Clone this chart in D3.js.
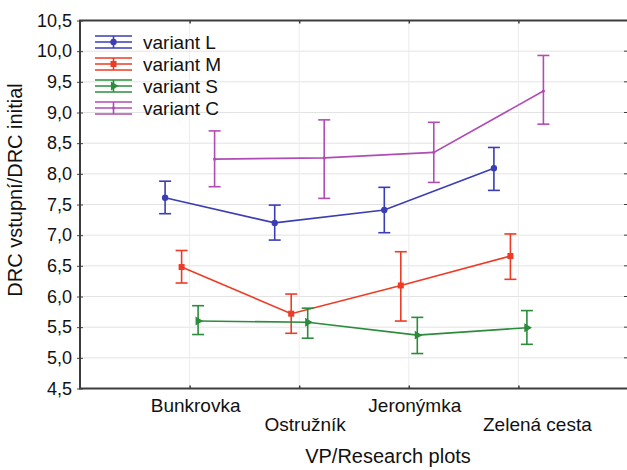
<!DOCTYPE html>
<html>
<head>
<meta charset="utf-8">
<script src="https://cdn.jsdelivr.net/npm/d3@7"></script>
<style>
  body { margin: 0; background: #fff; }
  text { font-family: "Liberation Sans", Arial, sans-serif; fill: #111; }
</style>
</head>
<body>
<div id="chart"></div>
<script>
// categories and series
const plots = ['Bunkrovka', 'Ostružník', 'Jeronýmka', 'Zelená cesta'];
const variants = ['variant L', 'variant M', 'variant S', 'variant C'];

// means and error bar ends
const meanL = [7.61, 7.20, 7.41, 8.09];
const lowL  = [7.35, 6.92, 7.04, 7.73];
const highL = [7.88, 7.49, 7.78, 8.43];

const meanM = [6.48, 5.72, 6.18, 6.66];
const lowM  = [6.22, 5.40, 5.60, 6.28];
const highM = [6.75, 6.04, 6.73, 7.02];

const meanS = [5.60, 5.58, 5.37, 5.49];
const lowS  = [5.38, 5.32, 5.07, 5.22];
const highS = [5.85, 5.81, 5.66, 5.77];

const meanC = [8.24, 8.26, 8.35, 9.35];
const lowC  = [7.79, 7.60, 7.86, 8.81];
const highC = [8.70, 8.88, 8.84, 9.93];

const yTicks = [4.5, 5.0, 5.5, 6.0, 6.5, 7.0, 7.5, 8.0, 8.5, 9.0, 9.5, 10.0, 10.5];

const series = [
  { name: variants[0], mean: meanL, low: lowL, high: highL, color: '#3b3db3', symbol: d3.symbolCircle, size: 32, rot: 0 },
  { name: variants[1], mean: meanM, low: lowM, high: highM, color: '#ee3b25', symbol: d3.symbolSquare, size: 36, rot: 0 },
  { name: variants[2], mean: meanS, low: lowS, high: highS, color: '#2c8c3c', symbol: d3.symbolTriangle, size: 34, rot: 90 },
  { name: variants[3], mean: meanC, low: lowC, high: highC, color: '#b04db5', symbol: d3.symbolCircle, size: 8, rot: 0 }
];

const width = 627, height = 470;
const plot = { left: 80, top: 20.5, right: 628, bottom: 388.5 };

const svg = d3.select('#chart').append('svg')
  .attr('width', width).attr('height', height);

const x = d3.scalePoint().domain(plots).range([plot.left, plot.right]).padding(1);
const dx = d3.scalePoint().domain(variants).range([-24.5, 25]);
const y = d3.scaleLinear().domain([4.5, 10.5]).range([plot.bottom, plot.top]);

// grid
const grid = svg.append('g').attr('class', 'grid');
grid.selectAll('line.h').data(yTicks.slice(1, -1)).join('line')
  .attr('class', 'h')
  .attr('x1', plot.left).attr('x2', plot.right)
  .attr('y1', d => y(d)).attr('y2', d => y(d))
  .attr('stroke', '#e3e3e3').attr('stroke-width', 1);
grid.selectAll('line.v').data(plots).join('line')
  .attr('class', 'v')
  .attr('x1', d => x(d)).attr('x2', d => x(d))
  .attr('y1', plot.top).attr('y2', plot.bottom)
  .attr('stroke', '#ececec').attr('stroke-width', 1);

// series
const line = d3.line()
  .x((d, i) => x(plots[i]))
  .y(d => y(d));

series.forEach(s => {
  const g = svg.append('g').attr('class', 'series');
  const off = dx(s.name);

  g.append('path')
    .attr('fill', 'none')
    .attr('stroke', s.color)
    .attr('stroke-width', 1.6)
    .attr('d', d3.line().x((d, i) => x(plots[i]) + off).y(d => y(d))(s.mean));

  const bars = g.selectAll('g.bar').data(s.mean).join('g').attr('class', 'bar');
  bars.append('line')
    .attr('x1', (d, i) => x(plots[i]) + off).attr('x2', (d, i) => x(plots[i]) + off)
    .attr('y1', (d, i) => y(s.low[i])).attr('y2', (d, i) => y(s.high[i]))
    .attr('stroke', s.color).attr('stroke-width', 1.6);
  ['low', 'high'].forEach(k => {
    bars.append('line')
      .attr('x1', (d, i) => x(plots[i]) + off - 6).attr('x2', (d, i) => x(plots[i]) + off + 6)
      .attr('y1', (d, i) => y(s[k][i])).attr('y2', (d, i) => y(s[k][i]))
      .attr('stroke', s.color).attr('stroke-width', 1.6);
  });
  bars.append('path')
    .attr('d', d3.symbol().type(s.symbol).size(s.size))
    .attr('transform', (d, i) => `translate(${x(plots[i]) + off},${y(d)}) rotate(${s.rot})`)
    .attr('fill', s.color);
});

// frame
svg.append('rect')
  .attr('x', plot.left).attr('y', plot.top)
  .attr('width', plot.right - plot.left).attr('height', plot.bottom - plot.top)
  .attr('fill', 'none').attr('stroke', '#3d3d3d').attr('stroke-width', 2);

// y axis
const yAxis = d3.axisLeft(y)
  .tickValues(yTicks)
  .tickSize(3)
  .tickPadding(5)
  .tickFormat(d => d3.format('.1f')(d).replace('.', ','));
const ya = svg.append('g').attr('transform', `translate(${plot.left},0)`).call(yAxis);
ya.select('.domain').remove();
ya.selectAll('line').attr('stroke', '#3d3d3d').attr('x2', 3).attr('x1', -3);
ya.selectAll('text').style('font-size', '18px').attr('fill', '#111');

// right ticks
svg.append('g').selectAll('line').data(yTicks).join('line')
  .attr('x1', plot.right - 4).attr('x2', plot.right)
  .attr('y1', d => y(d)).attr('y2', d => y(d))
  .attr('stroke', '#3d3d3d');

// x axis ticks (bottom and top, inward)
const xAxis = d3.axisBottom(x).tickSize(-3).tickFormat('');
const xa = svg.append('g').attr('transform', `translate(0,${plot.bottom})`).call(xAxis);
xa.select('.domain').remove();
xa.selectAll('line').attr('stroke', '#3d3d3d').attr('stroke-width', 1.5);
const xt = svg.append('g').attr('transform', `translate(0,${plot.top})`).call(d3.axisTop(x).tickSize(-3).tickFormat(''));
xt.select('.domain').remove();
xt.selectAll('line').attr('stroke', '#3d3d3d').attr('stroke-width', 1.5);

// staggered category labels
const labelShift = [6, 6, 6, 19];
svg.append('g').selectAll('text').data(plots).join('text')
  .attr('x', (d, i) => x(d) + labelShift[i])
  .attr('y', (d, i) => i % 2 === 0 ? 412 : 431)
  .attr('text-anchor', 'middle')
  .style('font-size', '19px')
  .text(d => d);

// axis titles
svg.append('text')
  .attr('x', 388).attr('y', 463)
  .attr('text-anchor', 'middle')
  .style('font-size', '20px')
  .text('VP/Research plots');

svg.append('text')
  .attr('transform', 'translate(22,190) rotate(-90)')
  .attr('text-anchor', 'middle')
  .style('font-size', '20px')
  .text('DRC vstupní/DRC initial');

// legend
const legend = svg.append('g').attr('class', 'legend');
series.forEach((s, i) => {
  const cy = 42 + i * 22;
  const g = legend.append('g');
  [-6, 0, 6].forEach(o => {
    g.append('line')
      .attr('x1', 95).attr('x2', 132)
      .attr('y1', cy + o).attr('y2', cy + o)
      .attr('stroke', s.color).attr('stroke-width', 1.6);
  });
  g.append('line')
    .attr('x1', 113.5).attr('x2', 113.5)
    .attr('y1', cy - 6).attr('y2', cy + 6)
    .attr('stroke', s.color).attr('stroke-width', 1.6);
  g.append('path')
    .attr('d', d3.symbol().type(s.symbol).size(s.size))
    .attr('transform', `translate(113.5,${cy}) rotate(${s.rot})`)
    .attr('fill', s.color);
  g.append('text')
    .attr('x', 143).attr('y', cy + 7)
    .style('font-size', '19px')
    .text(s.name);
});
</script>
</body>
</html>
